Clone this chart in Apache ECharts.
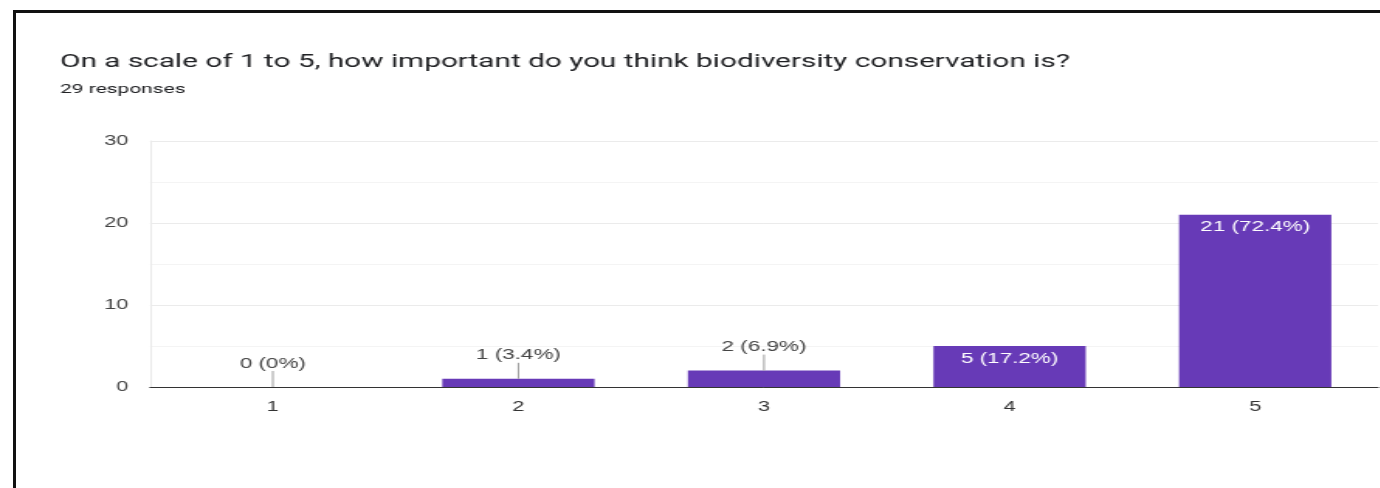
<!DOCTYPE html>
<html>
<head>
<meta charset="utf-8">
<script src="https://cdn.jsdelivr.net/npm/echarts@6/dist/echarts.min.js"></script>
<style>
  html, body { margin: 0; padding: 0; background: #fff; }
  #wrap { position: relative; width: 1380px; height: 488px; overflow: hidden; background: #fff; }
  #chart { position: absolute; left: 0; top: 0; height: 488px; transform-origin: 0 0; }
  #frame { position: absolute; left: 13px; top: 10px; right: -10px; bottom: -10px;
           border-top: 3px solid #111; border-left: 3px solid #111; pointer-events: none; }
</style>
</head>
<body>
<div id="wrap">
  <div id="chart"></div>
  <div id="frame"></div>
</div>
<script>
// Survey results: rating counts and their share of all responses
const titleText = 'On a scale of 1 to 5, how important do you think biodiversity conservation is?';
const subtitleText = '29 responses';
const categories = ['1', '2', '3', '4', '5'];
const counts = [0, 1, 2, 5, 21];
const percents = [0, 3.4, 6.9, 17.2, 72.4];
const yTicks = [0, 10, 20, 30];

// The chart is laid out on a narrower canvas and stretched horizontally.
const STRETCH = 1.55;
const FULL_W = 1380;
const W = FULL_W / STRETCH;
const chartEl = document.getElementById('chart');
chartEl.style.width = W + 'px';
chartEl.style.transform = 'scaleX(' + STRETCH + ')';

const sx = v => v / STRETCH;
const PURPLE = '#673ab7';
const maxCount = Math.max(...counts);
const fitsInside = v => v / maxCount >= 0.2;
const labelText = i => counts[i] + ' (' + percents[i] + '%)';

const chart = echarts.init(chartEl, null, { renderer: 'canvas' });

chart.setOption({
  animation: false,
  backgroundColor: '#fff',
  textStyle: { fontFamily: 'Liberation Sans, Arial, sans-serif' },
  title: [
    {
      text: titleText,
      left: sx(60), top: 53, padding: 0,
      textStyle: { fontFamily: 'Roboto, sans-serif', fontSize: 19.2, fontWeight: 400, color: '#202124' }
    },
    {
      text: subtitleText,
      left: sx(60), top: 83, padding: 0,
      textStyle: { fontFamily: 'Roboto, sans-serif', fontSize: 13.5, fontWeight: 400, color: '#202124' }
    }
  ],
  grid: { left: sx(150), right: sx(1.5), top: 141, bottom: 101, containLabel: false },
  xAxis: {
    type: 'category',
    data: categories,
    axisLine: { show: true, lineStyle: { color: '#333', width: 1 } },
    axisTick: { show: false },
    axisLabel: { color: '#333', fontSize: 14, margin: 13 },
    splitLine: { show: false }
  },
  yAxis: {
    type: 'value',
    min: yTicks[0], max: yTicks[yTicks.length - 1], interval: yTicks[1] - yTicks[0],
    axisLine: { show: true, lineStyle: { color: '#ebebeb' } },
    axisTick: { show: false },
    axisLabel: { color: '#444', fontSize: 14, margin: 14 },
    splitLine: { lineStyle: { color: '#ebebeb' } },
    minorTick: { show: false, splitNumber: 2 },
    minorSplitLine: { show: true, lineStyle: { color: '#f4f4f4' } }
  },
  series: [
    {
      type: 'bar',
      data: counts.map((v, i) => ({
        value: v,
        label: fitsInside(v)
          ? { position: 'insideTop', distance: 5, color: '#fff' }
          : { position: 'top', distance: 16, color: '#444' }
      })),
      barWidth: '62%',
      itemStyle: { color: PURPLE },
      label: {
        show: true,
        fontSize: 14.5,
        formatter: p => labelText(p.dataIndex)
      },
      z: 2
    },
    {
      // short leader lines joining outside labels to their bars
      type: 'custom',
      data: counts.map((v, i) => [i, v]),
      silent: true,
      z: 3,
      renderItem: (params, api) => {
        const v = api.value(1);
        if (fitsInside(v)) return null;
        const p = api.coord([api.value(0), v]);
        return {
          type: 'line',
          shape: { x1: p[0], y1: p[1], x2: p[0], y2: p[1] - 16 },
          style: { stroke: '#9e9e9e', lineWidth: 1 }
        };
      }
    }
  ]
});
</script>
</body>
</html>
